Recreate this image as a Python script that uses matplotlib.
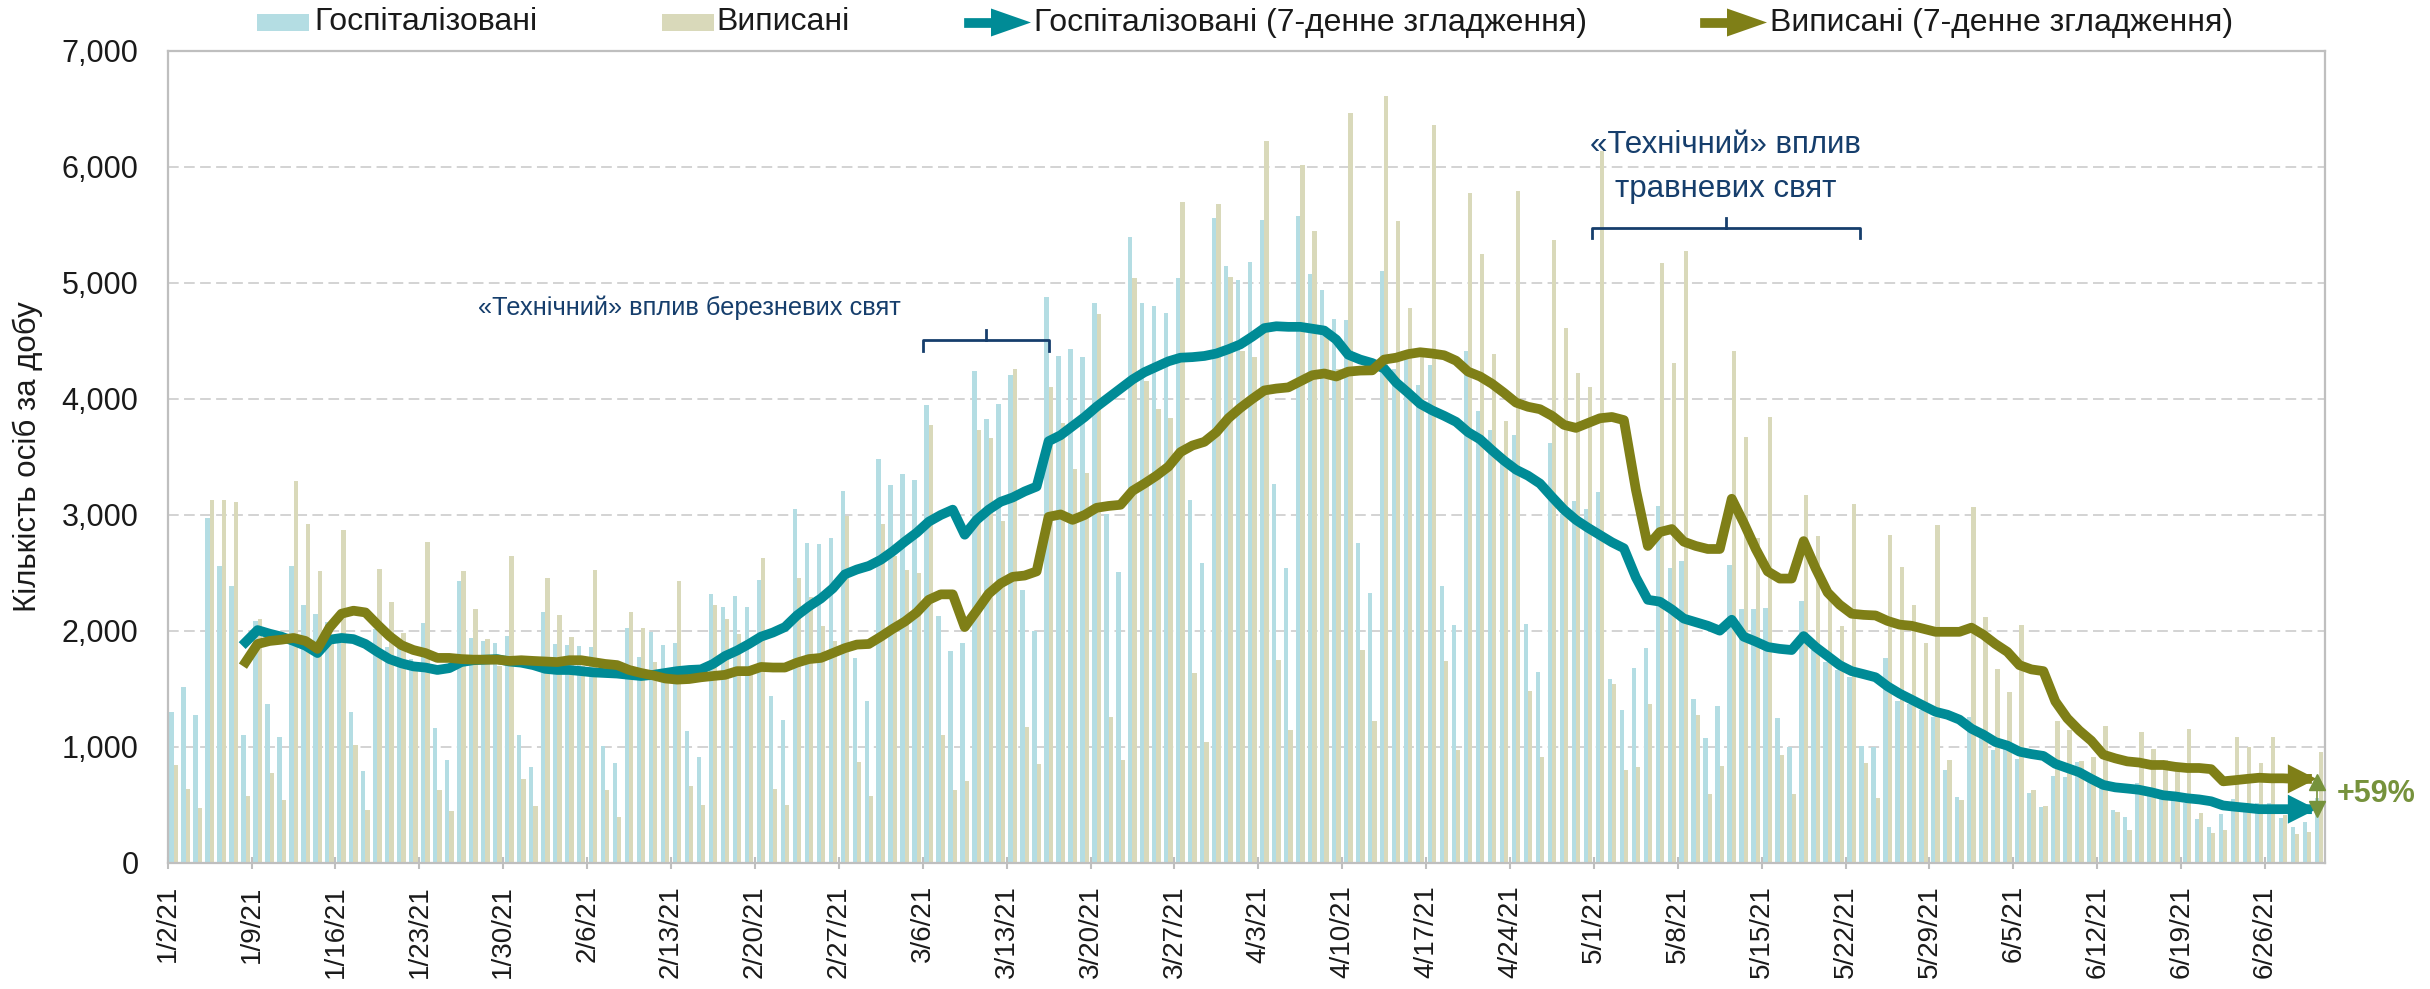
import matplotlib
matplotlib.use('Agg')
import matplotlib.pyplot as plt
from matplotlib.patches import Rectangle, Polygon
from matplotlib.lines import Line2D
import numpy as np
import pandas as pd

plt.rcParams['font.family'] = ['Liberation Sans', 'DejaVu Sans']

# daily data, 1/2/21 .. 6/30/21
days = pd.date_range('2021-01-02', '2021-06-30', freq='D')

hosp = [1300, 1520, 1280, 2970, 2560, 2390, 1100, 2090, 1370, 1090,
        2560, 2220, 2150, 2080, 1910, 1300, 790, 2020, 1860, 1860,
        1760, 2070, 1160, 890, 2430, 1940, 1910, 1900, 1960, 1100,
        830, 2160, 1890, 1880, 1870, 1860, 1010, 860, 2030, 1780,
        1990, 1880, 1900, 1140, 910, 2320, 2210, 2300, 2210, 2440,
        1440, 1230, 3050, 2760, 2750, 2800, 3210, 1770, 1400, 3480,
        3260, 3350, 3300, 3950, 2130, 1830, 1900, 4240, 3830, 3960,
        4210, 2350, 2000, 4880, 4370, 4430, 4360, 4830, 3010, 2510,
        5400, 4830, 4800, 4740, 5040, 3130, 2590, 5560, 5150, 5030,
        5180, 5540, 3270, 2540, 5580, 5080, 4940, 4690, 4680, 2760,
        2330, 5100, 4260, 4370, 4120, 4290, 2390, 2050, 4410, 3900,
        3730, 3530, 3690, 2060, 1650, 3620, 3010, 3120, 3050, 3200,
        1590, 1320, 1680, 1850, 3080, 2540, 2600, 1410, 1080, 1350,
        2570, 2190, 2190, 2200, 1250, 1000, 2260, 1840, 1730, 1660,
        1600, 1010, 1000, 1770, 1400, 1370, 1320, 1260, 800, 570,
        1260, 1110, 970, 1000, 900, 600, 480, 750, 740, 870,
        770, 660, 460, 400, 690, 580, 560, 540, 520, 380,
        310, 420, 550, 480, 520, 520, 390, 310, 350, 560]

disch = [845, 636, 475, 3130, 3130, 3110, 574, 2100, 777, 543,
         3290, 2920, 2520, 1900, 2870, 1017, 454, 2535, 2250, 1980,
         1700, 2765, 626, 449, 2514, 2190, 1930, 1700, 2650, 725,
         490, 2460, 2134, 1950, 1700, 2530, 626, 396, 2165, 2030,
         1730, 1650, 2430, 668, 496, 2227, 2107, 1977, 1650, 2630,
         636, 496, 2460, 2290, 2045, 1914, 2994, 871, 579, 2920,
         2645, 2530, 2504, 3777, 1101, 631, 709, 3730, 3667, 2950,
         4262, 1174, 855, 4105, 3790, 3396, 3365, 4737, 1262, 887,
         5039, 4158, 3912, 3839, 5702, 1638, 1043, 5681, 5055, 4418,
         4361, 6223, 1748, 1148, 6020, 5451, 4575, 4262, 6468, 1836,
         1226, 6609, 5535, 4784, 4366, 6359, 1742, 975, 5775, 5253,
         4392, 3813, 5796, 1487, 918, 5373, 4611, 4225, 4100, 6135,
         1539, 803, 824, 1372, 5175, 4314, 5279, 1278, 595, 840,
         4413, 3672, 2801, 3845, 934, 595, 3172, 2817, 2332, 2045,
         3099, 866, 558, 2827, 2556, 2222, 1899, 2911, 892, 543,
         3073, 2123, 1675, 1471, 2055, 631, 490, 1221, 1148, 882,
         918, 1184, 443, 287, 1132, 981, 892, 819, 1158, 428,
         261, 287, 1090, 1002, 861, 1090, 412, 250, 271, 960]

# 7-day smoothed series start on 1/8/21 (index 6)
smooth_start = 6
hosp_7d = [1904, 2008, 1977, 1951, 1914, 1873, 1810, 1925, 1940, 1930,
           1888, 1820, 1758, 1721, 1695, 1685, 1664, 1680, 1732, 1748,
           1753, 1758, 1737, 1727, 1706, 1674, 1664, 1664, 1654, 1643,
           1638, 1633, 1622, 1612, 1622, 1638, 1654, 1664, 1669, 1716,
           1784, 1831, 1888, 1951, 1987, 2034, 2134, 2212, 2280, 2368,
           2488, 2530, 2561, 2614, 2687, 2770, 2848, 2942, 3000, 3046,
           2830, 2958, 3046, 3114, 3151, 3203, 3245, 3636, 3688, 3766,
           3844, 3933, 4011, 4090, 4168, 4231, 4278, 4325, 4356, 4361,
           4371, 4392, 4429, 4471, 4538, 4611, 4627, 4622, 4622, 4606,
           4590, 4512, 4382, 4340, 4310, 4262, 4142, 4053, 3959, 3902,
           3855, 3803, 3714, 3652, 3558, 3469, 3391, 3339, 3271, 3156,
           3046, 2958, 2890, 2827, 2765, 2713, 2462, 2269, 2253, 2186,
           2107, 2076, 2045, 2003, 2097, 1951, 1909, 1862, 1846, 1836,
           1956, 1862, 1784, 1706, 1654, 1628, 1601, 1523, 1461, 1408,
           1356, 1304, 1278, 1236, 1158, 1106, 1043, 1012, 960, 939,
           923, 855, 819, 782, 725, 673, 652, 642, 631, 610,
           584, 574, 558, 548, 532, 496, 485, 475, 464, 464,
           464, 464, 464, 464]

disch_7d = [1732, 1888, 1914, 1925, 1940, 1914, 1846, 2029, 2149, 2175,
            2160, 2055, 1956, 1878, 1836, 1810, 1768, 1768, 1758, 1753,
            1753, 1753, 1742, 1748, 1742, 1737, 1732, 1748, 1748, 1732,
            1716, 1706, 1664, 1638, 1617, 1591, 1581, 1586, 1601, 1612,
            1622, 1654, 1654, 1690, 1685, 1685, 1727, 1758, 1768, 1810,
            1852, 1883, 1888, 1951, 2019, 2081, 2160, 2269, 2316, 2316,
            2034, 2175, 2321, 2410, 2467, 2478, 2514, 2984, 3005, 2958,
            3000, 3062, 3078, 3088, 3208, 3271, 3339, 3417, 3542, 3599,
            3631, 3714, 3834, 3923, 4001, 4074, 4090, 4100, 4152, 4205,
            4220, 4194, 4236, 4245, 4247, 4340, 4356, 4387, 4403, 4392,
            4377, 4330, 4236, 4194, 4131, 4053, 3969, 3933, 3912, 3855,
            3777, 3751, 3792, 3834, 3845, 3818, 3219, 2733, 2853, 2879,
            2770, 2733, 2707, 2707, 3140, 2932, 2707, 2514, 2452, 2452,
            2775, 2540, 2332, 2227, 2149, 2139, 2134, 2087, 2055, 2045,
            2019, 1993, 1993, 1993, 2029, 1967, 1888, 1820, 1706, 1669,
            1654, 1393, 1247, 1142, 1054, 934, 902, 876, 866, 845,
            845, 829, 819, 819, 809, 704, 714, 725, 735, 730,
            730, 725, 725, 725]

tick_labels = ['1/2/21', '1/9/21', '1/16/21', '1/23/21', '1/30/21', '2/6/21',
               '2/13/21', '2/20/21', '2/27/21', '3/6/21', '3/13/21', '3/20/21',
               '3/27/21', '4/3/21', '4/10/21', '4/17/21', '4/24/21', '5/1/21',
               '5/8/21', '5/15/21', '5/22/21', '5/29/21', '6/5/21', '6/12/21',
               '6/19/21', '6/26/21']

legend_labels = ['Госпіталізовані', 'Виписані',
                 'Госпіталізовані (7-денне згладження)',
                 'Виписані (7-денне згладження)']
note_march = '«Технічний» вплив березневих свят'
note_may = ['«Технічний» вплив', 'травневих свят']
growth_label = '+59%'

c_hosp_bar = '#B4DDE3'
c_disch_bar = '#D9D9BA'
c_hosp = '#008B96'
c_disch = '#7F7F17'
c_note = '#163E6C'
c_growth = '#76923C'
c_grid = '#C8C8C8'
c_axis = '#BFBFBF'
c_text = '#1A1A1A'

W, H = 2430, 989
fig = plt.figure(figsize=(W / 100, H / 100), dpi=100)
ax = fig.add_axes([167.7 / W, 1 - 863 / H, (2325 - 167.7) / W, (863 - 51) / H])

x = np.arange(len(days))
ax.bar(x + 0.32, hosp, width=0.36, color=c_hosp_bar, lw=0, zorder=2)
ax.bar(x + 0.68, disch, width=0.36, color=c_disch_bar, lw=0, zorder=2)

xs = x[smooth_start:] + 0.5
ax.plot(xs[:-1], hosp_7d[:-1], color=c_hosp, lw=7, solid_joinstyle='round', zorder=4)
ax.plot(xs[:-1], disch_7d[:-1], color=c_disch, lw=7, solid_joinstyle='round', zorder=4)

# arrow heads at the end of the smoothed lines
tip = xs[-1] - 0.2
for series, col in [(hosp_7d, c_hosp), (disch_7d, c_disch)]:
    yv = series[-1]
    ax.add_patch(Polygon([[tip, yv], [tip - 2.4, yv + 125], [tip - 2.4, yv - 125]],
                         closed=True, color=col, lw=0, zorder=5, clip_on=False))

# up/down marker and growth label
ax.plot([tip, tip], [hosp_7d[-1], disch_7d[-1] - 30], color=c_growth, lw=1.2, zorder=6, clip_on=False)
ax.plot([tip], [disch_7d[-1] - 30], marker='^', ms=11, color=c_growth, zorder=6, clip_on=False)
ax.plot([tip], [hosp_7d[-1]], marker='v', ms=11, color=c_growth, zorder=6, clip_on=False)
ax.text(181.0, (hosp_7d[-1] + disch_7d[-1]) / 2, growth_label, color=c_growth,
        fontsize=22, fontweight='bold', ha='left', va='center', clip_on=False)

# brackets with notes
def bracket(x0, x1, y, xm):
    ax.plot([x0, x0, x1, x1], [y - 90, y, y, y - 90], color=c_note, lw=2, zorder=6,
            solid_joinstyle='round')
    ax.plot([xm, xm], [y, y + 90], color=c_note, lw=2, zorder=6)

bracket(63.0, 73.5, 4508, 68.3)
ax.text(43.5, 4784, note_march, color=c_note, fontsize=18.3, ha='center', va='center', zorder=6)
bracket(118.8, 141.2, 5474, 130.0)
ax.text(130.0, 6190, note_may[0], color=c_note, fontsize=22.5, ha='center', va='center', zorder=6)
ax.text(130.0, 5810, note_may[1], color=c_note, fontsize=22.5, ha='center', va='center', zorder=6)

ax.set_xlim(0, len(days))
ax.set_ylim(0, 7000)
ax.set_xticks(np.arange(0, len(days), 7))
ax.set_xticklabels(tick_labels, rotation=90, fontsize=20, color=c_text)
ax.set_yticks(np.arange(0, 7001, 1000))
ax.set_yticklabels(['{:,}'.format(v) for v in range(0, 7001, 1000)], fontsize=22, color=c_text)
ax.tick_params(axis='x', direction='inout', length=8, width=1.5, color=c_axis, pad=12)
ax.tick_params(axis='y', length=0, pad=21)

ax.set_axisbelow(True)
for v in range(1000, 7000, 1000):
    ax.axhline(v, color=c_grid, lw=1.1, dashes=(7, 3.5), zorder=1)
for s in ax.spines.values():
    s.set_color(c_axis)
    s.set_linewidth(1.6)

fig.text(28 / W, 1 - 457 / H, 'Кількість осіб за добу', rotation=90, fontsize=22.5,
         ha='center', va='center', color=c_text)

# legend drawn by hand
ly = 1 - 22.5 / H
def legend_patch(x0, col):
    fig.add_artist(Rectangle((x0 / W, 1 - 31 / H), 52 / W, 17 / H, transform=fig.transFigure,
                             color=col, lw=0))

def legend_arrow(x0, col):
    fig.add_artist(Line2D([x0 / W, (x0 + 26) / W], [ly, ly], transform=fig.transFigure,
                          color=col, lw=7))
    fig.add_artist(Polygon([[(x0 + 62) / W, ly], [(x0 + 22) / W, ly + 14 / H],
                            [(x0 + 22) / W, ly - 14 / H]], closed=True,
                           transform=fig.transFigure, color=col, lw=0))

legend_patch(257, c_hosp_bar)
fig.text(314 / W, ly, legend_labels[0], fontsize=23, va='center', ha='left', color=c_text)
legend_patch(662, c_disch_bar)
fig.text(716 / W, ly, legend_labels[1], fontsize=23, va='center', ha='left', color=c_text)
legend_arrow(969, c_hosp)
fig.text(1034 / W, ly, legend_labels[2], fontsize=23, va='center', ha='left', color=c_text)
legend_arrow(1705, c_disch)
fig.text(1770 / W, ly, legend_labels[3], fontsize=23, va='center', ha='left', color=c_text)

fig.savefig('out.png', dpi=100)
